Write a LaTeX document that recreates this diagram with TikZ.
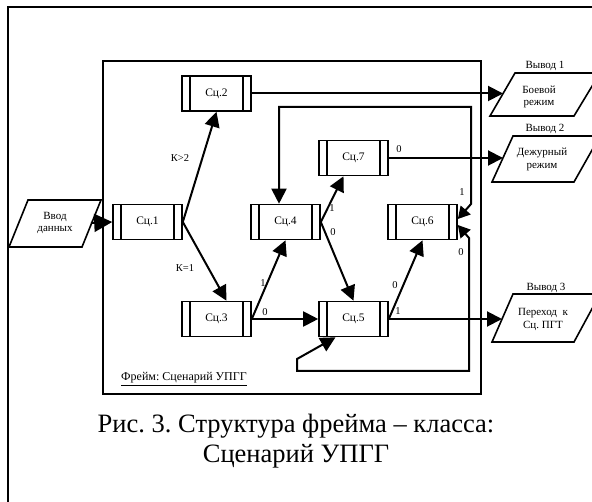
\documentclass[tikz,border=0pt]{standalone}
\usepackage{fontspec}
\setmainfont{Liberation Serif}
\usetikzlibrary{arrows.meta}
\frenchspacing
\begin{document}
\begin{tikzpicture}[x=1pt,y=-1pt,
  bar/.style={line width=1.6pt},
  proc/.style={draw, line width=1.6pt, minimum width=69pt, minimum height=35pt, inner sep=0pt,
    font=\fontsize{11.5}{13}\selectfont,
    path picture={
      \draw[bar] ([xshift=8pt]path picture bounding box.north west) -- ([xshift=8pt]path picture bounding box.south west);
      \draw[bar] ([xshift=-8pt]path picture bounding box.north east) -- ([xshift=-8pt]path picture bounding box.south east);}},
  para/.style={draw, line width=1.6pt, line join=miter},
  arr/.style={line width=2pt, -{Triangle[length=15pt,width=15pt]}},
  arrbig/.style={line width=2pt, -{Triangle[length=18pt,width=18pt]}},
  arrboth/.style={line width=2pt, {Triangle[length=12pt,width=13pt]}-{Triangle[length=15pt,width=15pt]}},
  lbl/.style={font=\fontsize{10.5}{12}\selectfont, inner sep=0pt},
  txt/.style={font=\fontsize{11}{12.5}\selectfont, align=center, inner sep=0pt},
]
\useasboundingbox (0,0) rectangle (592,502);
% outer frame (cut by the page)
\draw[line width=1.3pt] (8,505) -- (8,7) -- (595,7);
% inner frame
\draw[line width=1.6pt] (103,61) rectangle (481,394);
\node[font=\fontsize{12}{14}\selectfont, anchor=west, inner sep=0pt] (frame) at (121,379) {\underline{Фрейм: Сценарий УПГГ}};

% process boxes
\node[proc] (s1) at (147.5,222) {Сц.1};
\node[proc] (s2) at (216.5,93.5) {Сц.2};
\node[proc] (s3) at (216.5,319) {Сц.3};
\node[proc] (s4) at (285.5,222) {Сц.4};
\node[proc] (s5) at (353.5,319) {Сц.5};
\node[proc] (s6) at (422.5,222) {Сц.6};
\node[proc] (s7) at (353.5,158) {Сц.7};

% input
\draw[para] (28,200) -- (101,200) -- (82,247) -- (9,247) -- cycle;
\node[txt] (in) at (55,223) {Ввод\\данных};
\coordinate (inR) at (91,223);

% outputs
\draw[para] (515,73) -- (600,73) -- (574,116) -- (490,116) -- cycle;
\node[txt] (o1) at (539,97) {Боевой\\режим};
\node[txt] (v1) at (545,66) {Вывод 1};
\coordinate (o1L) at (503,93.5);

\draw[para] (513,136) -- (600,136) -- (574,182) -- (492,182) -- cycle;
\node[txt] (o2) at (542,159.5) {Дежурный\\режим};
\node[txt] (v2) at (545,129) {Вывод 2};
\coordinate (o2L) at (503,158);

\draw[para] (513,294) -- (600,294) -- (574,342) -- (492,342) -- cycle;
\node[txt] (o3) at (543,319.5) {Переход\ \ к\\Сц. ПГТ};
\node[txt] (v3) at (546,288) {Вывод 3};
\coordinate (o3L) at (502,319);

% connectors
\draw[arrbig] (inR) -- (s1.west);
\draw[arr] (s1.east) -- (s2.south);
\draw[arr] (s1.east) -- ([xshift=10pt]s3.north);
\draw[arr] (s3.east) -- (s4.south);
\draw[arr] (s3.east) -- (s5.west);
\draw[arr] (s4.east) -- ([xshift=-10pt]s7.south);
\draw[arr] (s4.east) -- (s5.north);
\draw[arr] (s5.east) -- (s6.south);
\draw[arr] (s5.east) -- (o3L);
\draw[arr] (s7.east) -- (o2L);
\draw[arr] (s2.east) -- (o1L);

% loops from Сц.6
\coordinate (u1) at (471,204);
\coordinate (u2) at (279,107);
\draw[arrboth] ([yshift=3pt]s6.east) -- (u1) |- (u2) -- ([xshift=-6.5pt]s4.north);
\coordinate (d1) at (469,238);
\coordinate (d2) at (297,371);
\coordinate (d3) at (297,359);
\draw[arrboth] ([yshift=-3pt]s6.east) -- (d1) |- (d2) -- (d3) -- ([xshift=-18pt]s5.south);

% labels
\node[lbl] (k2) at (180,158) {К>2};
\node[lbl] (k1) at (185,268) {К=1};
\node[lbl] (l34) at (263,283) {1};
\node[lbl] (l35) at (265,312) {0};
\node[lbl] (l47) at (332,208) {1};
\node[lbl] (l45) at (333,232) {0};
\node[lbl] (l56) at (395,285) {0};
\node[lbl] (l5o) at (398,311) {1};
\node[lbl] (l7o) at (399,149) {0};
\node[lbl] (l6a) at (462,192) {1};
\node[lbl] (l6b) at (461,252) {0};

% caption
\node[font=\fontsize{26.5}{30}\selectfont, anchor=base, inner sep=0pt] (cap1) at (296,433) {Рис. 3. Структура фрейма – класса:};
\node[font=\fontsize{26.5}{30}\selectfont, anchor=base, inner sep=0pt] (cap2) at (296,463) {Сценарий УПГГ};
\end{tikzpicture}
\end{document}
